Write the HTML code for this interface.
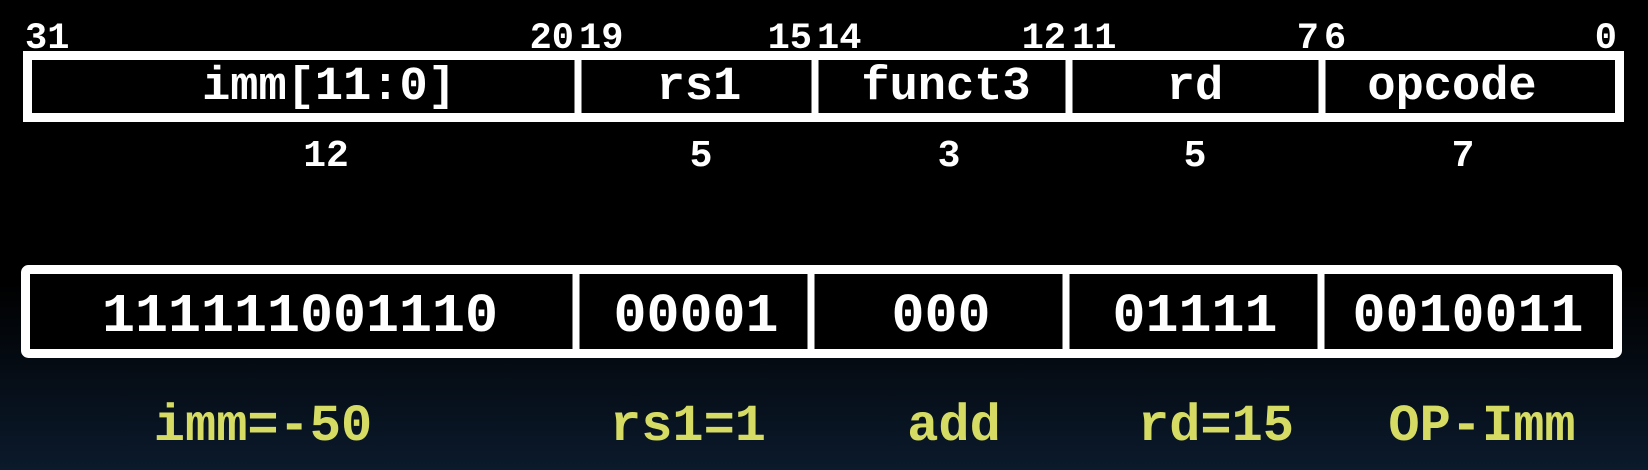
<!DOCTYPE html>
<html><head><style>
html,body{margin:0;padding:0;background:#000;}
svg{display:block}
text{font-family:"Liberation Mono",monospace;font-weight:bold}
</style></head><body>
<svg width="1648" height="470" viewBox="0 0 1648 470" xmlns="http://www.w3.org/2000/svg">
<defs>
<linearGradient id="bg" x1="0" y1="0" x2="0" y2="1">
<stop offset="0" stop-color="#000"/>
<stop offset="0.6" stop-color="#000"/>
<stop offset="1" stop-color="#0b1a2c"/>
</linearGradient>
</defs>
<rect width="1648" height="470" fill="url(#bg)"/>
<rect x="27.5" y="55.5" width="1592" height="62" fill="none" stroke="#fff" stroke-width="9"/>
<g stroke="#fff" stroke-width="7">
<line x1="578" y1="55" x2="578" y2="118"/>
<line x1="815" y1="55" x2="815" y2="118"/>
<line x1="1069" y1="55" x2="1069" y2="118"/>
<line x1="1322" y1="55" x2="1322" y2="118"/>
</g>
<g fill="#fff" font-size="37">
<text x="25" y="48">31</text>
<text x="574" y="48" text-anchor="end">20</text>
<text x="579" y="48">19</text>
<text x="812" y="48" text-anchor="end">15</text>
<text x="817" y="48">14</text>
<text x="1066" y="48" text-anchor="end">12</text>
<text x="1072" y="48">11</text>
<text x="1319" y="48" text-anchor="end">7</text>
<text x="1324" y="48">6</text>
<text x="1617" y="48" text-anchor="end">0</text>
</g>
<g fill="#fff" font-size="47" text-anchor="middle">
<text x="329" y="99">imm[11:0]</text>
<text x="699" y="99">rs1</text>
<text x="946" y="99">funct3</text>
<text x="1195" y="99">rd</text>
<text x="1452" y="99">opcode</text>
</g>
<g fill="#fff" font-size="38" text-anchor="middle">
<text x="326" y="166">12</text>
<text x="701" y="166">5</text>
<text x="949" y="166">3</text>
<text x="1195" y="166">5</text>
<text x="1463" y="166">7</text>
</g>
<rect x="25.5" y="269.5" width="1592" height="84" rx="3" fill="#000" stroke="#fff" stroke-width="9"/>
<g stroke="#fff" stroke-width="7">
<line x1="576" y1="269" x2="576" y2="354"/>
<line x1="811" y1="269" x2="811" y2="354"/>
<line x1="1066" y1="269" x2="1066" y2="354"/>
<line x1="1321" y1="269" x2="1321" y2="354"/>
</g>
<g fill="#fff" font-size="55" text-anchor="middle">
<text x="300" y="331">111111001110</text>
<text x="696" y="331">00001</text>
<text x="941" y="331">000</text>
<text x="1195" y="331">01111</text>
<text x="1468" y="331">0010011</text>
</g>
<g fill="#d6dc63" font-size="52" text-anchor="middle">
<text x="263" y="440">imm=-50</text>
<text x="688" y="440">rs1=1</text>
<text x="954" y="440">add</text>
<text x="1216" y="440">rd=15</text>
<text x="1482" y="440">OP-Imm</text>
</g>
</svg>
</body></html>
